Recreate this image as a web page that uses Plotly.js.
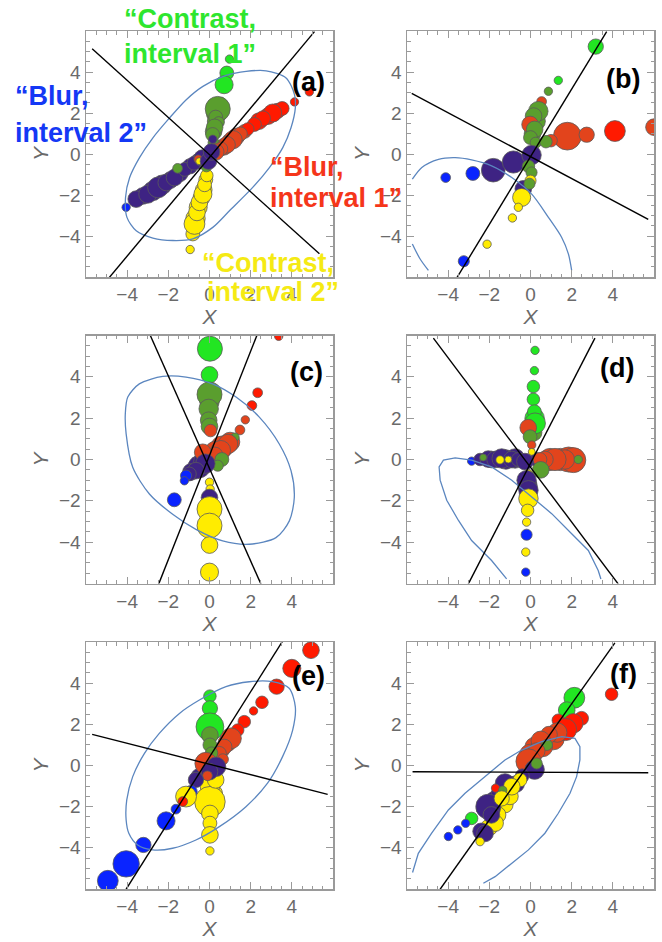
<!DOCTYPE html>
<html><head><meta charset="utf-8">
<script src="https://cdn.plot.ly/plotly-3.0.1.min.js"></script>
<style>html,body{margin:0;padding:0;background:#fff}#chart{width:662px;height:942px}</style>
</head><body><div id="chart"></div>
<script>
// ---------- data ----------
const tickVals = [-4, -2, 0, 2, 4];
const tickText = ['\u22124', '\u22122', '0', '2', '4'];

// panel (a)
const aX = [-3.25,-2.75,-2.30,-1.90,-1.45,-0.95,-0.55, 1.70,1.30,1.00,0.70, 2.40,2.85,3.30, 0.35,0.30,0.20,0.55, -0.68,-0.55,-0.40,-0.28,-0.18,
  0.97,0.84,0.71, 0.57,0.40,0.30,0.45,0.25,0.15,0.20, 0.16, 4.85,4.13,3.53,3.07,2.59,2.18,1.86, 1.50,1.15,0.85,0.55,0.30, -3.56,-3.00,-2.50,-2.10,-1.70,-1.20,-0.75,-0.35, -4.05, -0.94,-0.81,-0.73,-0.61,-0.49,-0.32,-0.24,-0.13, -0.15,-0.55,-0.50,-1.55,-0.05,0.10];
const aY = [-2.05,-1.80,-1.50,-1.27,-0.95,-0.60,-0.35, 1.10,0.85,0.60,0.35, 1.60,1.85,2.10, 2.00,1.60,1.10,2.40, -3.15,-2.60,-2.15,-1.75,-1.25,
  4.63,3.95,3.38, 2.52,2.20,1.80,1.55,1.30,0.95,0.55, 0.72, 3.03,2.54,2.22,2.00,1.73,1.44,1.22, 0.98,0.70,0.45,0.25,0.10, -2.20,-1.96,-1.63,-1.39,-1.15,-0.75,-0.45,-0.20, -2.60, -4.66,-3.90,-3.41,-2.85,-2.36,-1.96,-1.50,-1.05, -0.60,-0.25,-0.35,-0.70,-0.35,0.10];
const aSize = [12,14,14,12,12,11,11, 10,12,12,12, 12,12,11, 15,12,12,10, 14,13,12,12,10,
  6,10,13, 7,18,10,8,12,10,8, 6, 6,6,10,13,11,10,9, 10,13,12,10,12, 12,13,15,12,12,10,10,12, 6, 6,10,15,12,12,13,10,9, 8,6,5,7,12,12];
const aColor = ['P','P','P','P','P','P','P','O','O','O','O','R','R','R','D','D','D','D','Y','Y','Y','Y','Y',
  'G','G','G','D','D','D','D','D','D','D','P','R','R','R','R','R','R','R','O','O','O','O','O','P','P','P','P','P','P','P','P','B','Y','Y','Y','Y','Y','Y','Y','Y','D','O','Y','D','P','P'];
const aCurveX = [0.81,1.78,2.75,3.72,4.13,4.17,3.96,3.56,2.91,2.10,0.97,0.16,-0.81,-1.78,-2.75,-3.56,-4.01,-4.08,-3.88,-3.40,-2.75,-1.94,-1.13,-0.32,0.81];
const aCurveY = [3.83,4.03,4.06,3.71,2.90,2.25,1.28,0.31,-0.66,-1.63,-2.77,-3.58,-4.14,-4.22,-4.10,-3.74,-3.09,-2.12,-1.15,-0.18,0.79,1.76,2.65,3.30,3.83];
const aLineX = [-5.70, 5.34, null, -4.89, 5.10];
const aLineY = [5.13, -4.87, null, -6.05, 5.97];

// panel (b)
const bX = [0.25,0.10, 3.17,1.35,0.87,0.54,0.38,0.15,-0.02,0.20,0.00,0.25, 1.79,2.73,4.10,6.00,1.00,0.75, -1.81,-0.83,0.05, -4.12,-2.80, -0.35,-0.43,-0.59,-0.88,-2.11,-3.24, -0.10,0.05,0.00,-0.05];
const bY = [1.60,1.00, 5.24,3.59,3.06,2.56,2.09,1.85,1.44,1.20,0.80,0.55, 0.87,0.94,1.12,1.31,0.65,0.60, -0.79,-0.39,-0.05, -1.15,-0.95, -1.70,-2.12,-2.60,-3.12,-4.40,-5.23, -0.60,-0.90,-1.30,-1.45];
const bSize = [14,12, 11,6,6,7,14,12,12,12,10,8, 20,11,15,12,9,9, 17,16,14, 7,10, 12,13,6,6,6,8, 9,8,8,8];
const bColor = ['D','D', 'G','G','D','O','D','D','O','D','D','D', 'O','O','R','O','O','D', 'P','P','P', 'B','B', 'P','Y','Y','Y','Y','B', 'D','D','Y','D'];
const bCurveX = [-5.74,-5.28,-4.47,-3.66,-2.86,-1.89,-0.91,0.06,0.87,1.51,1.84,2.00, null, -5.74,-5.37,-4.96];
const bCurveY = [-1.23,-0.66,-0.26,-0.18,-0.29,-0.58,-1.15,-1.96,-3.09,-4.06,-4.87,-5.68, null, -4.39,-5.11,-5.68];
const bLineX = [-5.77, 5.72, null, -3.58, 3.70];
const bLineY = [2.96, -3.19, null, -6.04, 5.97];

// panel (c)
const cX = [0.60,0.30,1.00,-0.50,-0.90,-0.30,0.00, 0.02,0.00,0.00,-0.04,-0.04,0.00,0.05, 3.36,2.34,2.06,1.74,1.48,1.24, 0.90,0.55,0.25,-0.33, 0.60,0.40, -0.20,-0.66,-0.98, -1.14,-1.22,-1.71, 0.00,0.03, 0.00,0.00,0.00,0.00,0.00];
const cY = [0.60,0.35,0.85,-0.35,-0.60,-0.10,2.80, 5.36,4.10,3.15,2.45,1.90,1.60,1.40, 5.96,3.23,2.61,1.92,1.43,1.08, 0.75,0.45,0.20,0.35, 0.00,-0.30, -0.20,-0.54,-0.70, -0.78,-1.03,-1.95, -1.10,-1.43, -1.84,-2.40,-3.20,-4.14,-5.45];
const cSize = [16,16,14,16,12,14,14, 18,12,18,14,12,12,9, 6,7,7,6,7,6, 14,14,12,12, 10,8, 14,12,10, 8,6,10, 6,6, 12,18,18,12,13];
const cColor = ['O','O','O','P','P','P','D', 'G','G','D','D','D','D','O', 'R','R','R','O','O','D', 'O','O','O','O', 'D','D', 'P','P','P', 'B','B','B', 'Y','Y', 'P','Y','Y','Y','Y'];
const cCurveX = [-4.05,-4.09,-3.97,-3.41,-2.27,-1.14,0.15,1.29,2.42,3.39,3.96,4.12,3.88,3.23,1.93,0.64,-0.66,-1.79,-2.92,-3.73,-4.05];
const cCurveY = [1.24,2.21,3.02,3.66,4.02,3.99,3.66,3.02,2.05,0.75,-0.54,-1.84,-2.97,-3.78,-4.10,-3.94,-3.38,-2.65,-1.67,-0.38,1.24];
const cLineX = [-2.92, 2.50, null, -2.47, 2.34];
const cLineY = [6.10, -6.03, null, -6.03, 6.10];

// panel (d)
const dX = [-1.20,-0.75,-1.90,0.95,1.45,1.85,0.30,0.20,0.15,-0.15, 0.22,0.19,0.14,0.14,0.19,0.22,-0.11,-0.02,0.06,0.06, 2.08,1.67,1.19,0.70,0.46,2.32,0.50, -2.86,-2.45,-2.05,-1.72,-1.40,-0.91,-0.59,-0.27,-1.48,-1.08,-2.30, -0.10,-0.19,-0.10,-0.10,-0.14,-0.19,-0.19,-0.23,-0.23];
const dY = [0.00,0.05,0.00,0.00,0.00,0.00,0.00,2.00,1.30,-1.25, 5.28,4.30,3.53,2.91,2.31,1.75,1.54,1.10,0.70,0.37, -0.03,0.00,0.00,0.00,0.00,0.00,-0.50, -0.08,0.00,0.02,0.00,0.05,0.00,0.00,-0.10,-0.02,0.00,0.10, -0.68,-1.00,-1.49,-1.89,-2.46,-3.03,-3.64,-4.48,-5.45];
const dSize = [14,14,12,16,16,18,10,14,12,14, 6,6,9,9,10,15,12,10,6,5, 18,14,16,12,10,6,12, 6,9,12,12,14,12,10,12,6,5,5, 6,14,14,14,9,6,8,6,6];
const dColor = ['P','P','P','O','O','O','P','G','D','P', 'G','G','G','G','G','G','O','D','O','Y', 'O','O','O','O','O','D','D', 'B','P','P','P','P','P','P','P','Y','Y','D', 'Y','P','P','Y','Y','Y','B','Y','B'];
const dCurveX = [-1.16,-1.89,-2.86,-3.50,-4.07,-4.39,-4.44,-4.23,-3.66,-2.86,-1.89,-0.91,0.06,1.03,2.00,2.81,3.29,3.42];
const dCurveY = [-5.78,-4.89,-3.92,-2.95,-1.97,-1.00,-0.36,-0.03,0.08,-0.03,-0.36,-1.00,-1.81,-2.62,-3.59,-4.40,-5.37,-5.78];
const dLineX = [-4.72, 4.26, null, -3.02, 3.13];
const dLineY = [5.87, -6.02, null, -6.02, 5.87];

// panel (e)
const eX = [0.85,0.60,-0.50,0.10,0.05,0.02, 4.93,4.00,3.26,2.55,2.14,1.69,1.37,1.04,0.72,0.48,0.65, 0.02,0.02,0.02,0.02,0.02,0.02,0.10, 0.02,0.02,0.02,0.02,0.02,0.02,0.30, -0.17,0.32,0.00,-0.10, -0.66,-0.90,-1.14,-1.30,-1.63,-2.11,-3.21,-4.05,-4.94];
const eY = [1.10,0.75,-0.55,-1.40,-2.05,1.60, 5.60,4.72,3.83,3.07,2.65,2.13,1.72,1.32,0.91,0.59,0.30, 3.37,2.78,2.21,1.88,1.48,1.00,0.60, -1.03,-1.76,-2.33,-2.80,-3.37,-4.15,-0.70, 0.10,-0.06,-0.30,-0.50, -0.70,-1.27,-1.51,-1.75,-2.12,-2.69,-3.86,-4.78,-5.60];
const eSize = [13,11,12,16,14,14, 12,13,11,9,6,9,9,15,11,10,8, 9,11,6,20,12,10,9, 14,22,12,10,12,6,12, 16,14,12,7, 11,9,15,7,7,13,11,19,15];
const eColor = ['O','O','P','Y','Y','G', 'R','R','R','R','R','R','R','O','O','O','O', 'G','G','G','G','D','D','D', 'Y','Y','Y','Y','Y','Y','Y', 'O','P','P','O', 'P','B','Y','R','B','B','B','B','B'];
const eCurveX = [-4.05,-4.02,-3.73,-3.16,-2.44,-1.46,-0.49,0.80,1.93,3.06,3.87,4.17,4.04,3.55,2.82,1.77,0.48,-0.66,-1.79,-2.76,-3.49,-3.92,-4.05];
const eCurveY = [-2.65,-1.67,-0.54,0.59,1.56,2.53,3.18,3.83,4.07,4.07,3.75,2.85,1.72,0.43,-0.86,-2.00,-2.97,-3.62,-4.02,-4.10,-3.86,-3.29,-2.65];
const eLineX = [-5.70, 5.74, null, -4.05, 3.58];
const eLineY = [1.51, -1.40, null, -6.01, 6.09];

// panel (f)
const fX = [1.10,1.50,-1.00,-1.70,-1.25,-2.00,-2.40,0.20, 0.00,0.60,-0.70,-1.00,-1.60,-2.30, 3.94,2.13,1.76,1.35,2.48,2.08,1.70,1.30,0.90,0.50,0.80,0.30,-0.10,0.20,0.30,-0.40,-1.24,-0.51,-0.91,-1.56,-1.70,-1.35,-2.05,-1.40,-1.72,-1.90,-2.21,-2.45,-2.86,-3.15,-3.53,-3.99];
const fY = [1.30,1.70,-1.00,-1.70,-1.90,-3.00,-3.20,0.90, 0.50,0.90,-0.90,-1.50,-2.40,-2.10, 3.46,3.29,2.69,2.20,2.29,2.05,1.75,1.60,1.50,1.20,1.00,0.70,0.20,-0.20,0.10,-0.50,-0.87,-0.70,-1.03,-1.35,-1.10,-1.20,-2.00,-1.60,-2.80,-2.40,-3.30,-3.70,-2.57,-2.81,-3.13,-3.45];
const fSize = [16,14,14,14,12,12,12,14, 16,14,12,12,12,10, 9,15,12,9,10,14,16,14,12,14,8,12,18,14,8,10,14,10,12,10,6,6,18,11,12,12,12,6,9,6,6,6];
const fColor = ['O','O','P','P','Y','Y','P','O', 'O','O','P','Y','Y','P', 'R','G','G','R','R','R','R','O','O','O','D','O','O','P','D','P','P','Y','Y','P','R','D','P','Y','Y','P','P','Y','G','B','B','B'];
const fCurveX = [-5.73,-5.45,-4.81,-3.99,-3.18,-2.21,-1.24,-0.43,0.54,1.52,2.16,2.40,2.40,2.24,1.92,1.35,0.70,-0.10,-0.91,-1.72,-2.29];
const fCurveY = [-5.20,-4.27,-3.30,-2.16,-1.35,-0.54,0.27,0.75,1.16,1.40,1.32,0.91,0.27,-0.54,-1.35,-2.32,-3.29,-4.10,-4.75,-5.40,-5.72];
const fLineX = [-5.73, 5.72, null, -4.39, 4.10];
const fLineY = [-0.30, -0.35, null, -6.01, 5.96];

const panelLabels = ['(a)','(b)','(c)','(d)','(e)','(f)'];

// ---------- styling / layout ----------
const COLORS = {G:'#22e622', D:'#5a9e2e', R:'#ff1a00', O:'#e2441c', P:'#3e2383', Y:'#ffec00', B:'#0a24ff'};
const FONT = 'Liberation Sans, Arial, Helvetica, sans-serif';
const W = 662, H = 942;
const colDom = [[86,333],[407,654]];
const rowDom = [[31,277],[335.5,583.5],[642,889]];
const labelPos = [[308,82],[623,79],[306,372],[617,368],[308,676],[623,674]];

const panels = [
  {x:aX,y:aY,s:aSize,c:aColor,cx:aCurveX,cy:aCurveY,lx:aLineX,ly:aLineY,shape:'spline'},
  {x:bX,y:bY,s:bSize,c:bColor,cx:bCurveX,cy:bCurveY,lx:bLineX,ly:bLineY,shape:'spline'},
  {x:cX,y:cY,s:cSize,c:cColor,cx:cCurveX,cy:cCurveY,lx:cLineX,ly:cLineY,shape:'spline'},
  {x:dX,y:dY,s:dSize,c:dColor,cx:dCurveX,cy:dCurveY,lx:dLineX,ly:dLineY,shape:'linear'},
  {x:eX,y:eY,s:eSize,c:eColor,cx:eCurveX,cy:eCurveY,lx:eLineX,ly:eLineY,shape:'spline'},
  {x:fX,y:fY,s:fSize,c:fColor,cx:fCurveX,cy:fCurveY,lx:fLineX,ly:fLineY,shape:'linear'}
];

const traces = [];
const layout = {
  width: W, height: H, margin: {l:0,r:0,t:0,b:0}, showlegend: false,
  paper_bgcolor: '#fff', plot_bgcolor: '#fff', annotations: [],
  font: {family: FONT}
};

function axisStyle(domain, anchor, titleText) {
  return {
    domain: domain, anchor: anchor, range: [-6, 6], autorange: false,
    tickmode: 'array', tickvals: tickVals, ticktext: tickText,
    ticks: 'inside', ticklen: 7, tickwidth: 1, tickcolor: '#9a9a9a',
    minor: {tickmode: 'linear', tick0: 0, dtick: 0.5, ticks: 'inside', ticklen: 3.5, tickwidth: 1, tickcolor: '#9a9a9a', showgrid: false},
    showline: true, linecolor: '#9a9a9a', linewidth: 1.5, mirror: 'ticks',
    showgrid: false, zeroline: false,
    tickfont: {family: FONT, size: 19, color: '#6a6a6a'},
    title: {text: titleText, font: {family: FONT, size: 21, color: '#6a6a6a'}, standoff: 4},
    fixedrange: true
  };
}

panels.forEach((p, i) => {
  const n = i + 1;
  const xa = n === 1 ? 'x' : 'x' + n;
  const ya = n === 1 ? 'y' : 'y' + n;
  const col = i % 2, row = Math.floor(i / 2);
  const xd = [colDom[col][0] / W, colDom[col][1] / W];
  const yd = [1 - rowDom[row][1] / H, 1 - rowDom[row][0] / H];
  layout[n === 1 ? 'xaxis' : 'xaxis' + n] = axisStyle(xd, ya, '<i>X</i>');
  layout[n === 1 ? 'yaxis' : 'yaxis' + n] = axisStyle(yd, xa, '<i>Y</i>');

  traces.push({
    type: 'scatter', mode: 'markers', x: p.x, y: p.y, xaxis: xa, yaxis: ya,
    marker: {size: p.s, sizemode: 'diameter', sizeref: 0.72, color: p.c.map(k => COLORS[k]),
             line: {color: '#5a5a5a', width: 0.8}, opacity: 1},
    hoverinfo: 'skip'
  });
  traces.push({
    type: 'scatter', mode: 'lines', x: p.cx, y: p.cy, xaxis: xa, yaxis: ya,
    line: {color: '#5b86bf', width: 1.3, shape: p.shape, smoothing: 0.8},
    connectgaps: false, hoverinfo: 'skip'
  });
  traces.push({
    type: 'scatter', mode: 'lines', x: p.lx, y: p.ly, xaxis: xa, yaxis: ya,
    line: {color: '#000', width: 1.4}, connectgaps: false, hoverinfo: 'skip'
  });

  layout.annotations.push({
    xref: 'paper', yref: 'paper', x: labelPos[i][0] / W, y: 1 - labelPos[i][1] / H,
    xanchor: 'center', yanchor: 'middle', showarrow: false,
    text: '<b>' + panelLabels[i] + '</b>', font: {family: FONT, size: 27, color: '#000'}
  });
});

// callout texts
const callouts = [
  {t: '\u201cContrast,', x: 122, y: 19, c: '#2ee62e'},
  {t: 'interval 1\u201d', x: 122, y: 54, c: '#2ee62e'},
  {t: '\u201cBlur,', x: 13, y: 96, c: '#1438f5'},
  {t: 'interval 2\u201d', x: 13, y: 133, c: '#1438f5'},
  {t: '\u201cBlur,', x: 268, y: 167, c: '#f5361a'},
  {t: 'interval 1\u201d', x: 268, y: 198, c: '#f5361a'},
  {t: '\u201cContrast,', x: 200, y: 263, c: '#f5ea14'},
  {t: 'interval 2\u201d', x: 205, y: 292, c: '#f5ea14'}
];
callouts.forEach(o => layout.annotations.push({
  xref: 'paper', yref: 'paper', x: o.x / W, y: 1 - o.y / H, xanchor: 'left', yanchor: 'middle',
  showarrow: false, text: '<b>' + o.t + '</b>', font: {family: FONT, size: 27, color: o.c}
}));

Plotly.newPlot('chart', traces, layout, {staticPlot: true, displayModeBar: false});
</script>
</body></html>
